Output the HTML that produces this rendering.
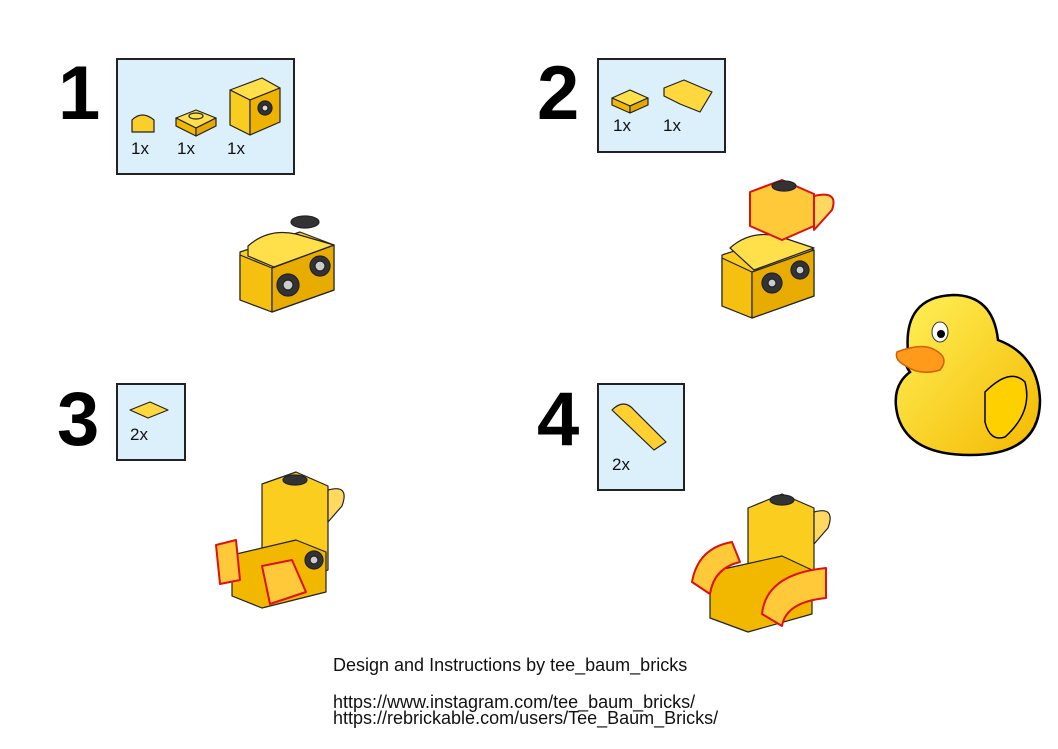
<!DOCTYPE html>
<html><head><meta charset="utf-8"><style>
html,body{margin:0;padding:0;background:#fff;}
body{width:1058px;height:749px;position:relative;overflow:hidden;font-family:"Liberation Sans",sans-serif;}
.n{position:absolute;font-weight:bold;font-size:76px;line-height:1;color:#000;}
.box{position:absolute;background:#dcf0fb;border:2px solid #222;box-sizing:border-box;}
.q{position:absolute;font-size:17px;color:#111;line-height:1;}
.t{position:absolute;font-size:18px;line-height:1;color:#111;left:333px;white-space:nowrap;}
svg{position:absolute;left:0;top:0;}
</style></head><body>
<div class="n" style="left:58px;top:56px">1</div>
<div class="n" style="left:537px;top:56px">2</div>
<div class="n" style="left:57px;top:382px">3</div>
<div class="n" style="left:537px;top:382px">4</div>
<div class="box" style="left:116px;top:58px;width:179px;height:117px"></div>
<div class="box" style="left:597px;top:58px;width:129px;height:95px"></div>
<div class="box" style="left:116px;top:383px;width:70px;height:78px"></div>
<div class="box" style="left:597px;top:383px;width:88px;height:108px"></div>
<div class="q" style="left:131px;top:140px">1x</div>
<div class="q" style="left:177px;top:140px">1x</div>
<div class="q" style="left:227px;top:140px">1x</div>
<div class="q" style="left:613px;top:117px">1x</div>
<div class="q" style="left:663px;top:117px">1x</div>
<div class="q" style="left:130px;top:426px">2x</div>
<div class="q" style="left:612px;top:456px">2x</div>
<div class="t" style="top:656px">Design and Instructions by tee_baum_bricks</div>
<div class="t" style="top:693px">https://www.instagram.com/tee_baum_bricks/</div>
<div class="t" style="top:709px">https://rebrickable.com/users/Tee_Baum_Bricks/</div>
<svg width="1058" height="749" viewBox="0 0 1058 749">
<defs>
<linearGradient id="dg" x1="0" y1="0" x2="1" y2="1"><stop offset="0" stop-color="#fff25a"/><stop offset="1" stop-color="#f4b800"/></linearGradient>
</defs>
<g stroke="#222" stroke-width="1.2" stroke-linejoin="round">
<path d="M132 120 q10-10 22 0 v12 h-22z" fill="#f9cf2c"/>
<polygon points="176,118 196,110 216,118 196,128" fill="#ffe04a"/><polygon points="176,118 196,128 196,136 176,126" fill="#f2b800"/><polygon points="196,128 216,118 216,126 196,136" fill="#e5a800"/>
<ellipse cx="196" cy="116" rx="7" ry="3" fill="#ffe04a"/>
<polygon points="230,90 262,78 280,88 250,100" fill="#ffe04a"/><polygon points="230,90 250,100 250,135 230,125" fill="#f9cc20"/><polygon points="250,100 280,88 280,122 250,135" fill="#eeb300"/>
<circle cx="265" cy="108" r="7" fill="#333"/><circle cx="265" cy="108" r="3" fill="#ddd"/>
<polygon points="612,98 630,90 648,98 630,106" fill="#ffe04a"/><polygon points="612,98 630,106 630,113 612,105" fill="#f2b800"/><polygon points="630,106 648,98 648,105 630,113" fill="#e5a800"/>
<polygon points="664,88 684,80 712,92 700,112 680,104 664,96" fill="#ffd840"/>
<polygon points="130,410 150,402 168,410 148,418" fill="#ffd840"/>
<path d="M612 410 q12-12 22 0 l32 32 -12 8 z" fill="#ffd030"/>
<polygon points="240,252 300,232 334,245 334,290 272,312 240,300" fill="#fbcd1e"/>
<polygon points="240,255 272,268 272,312 240,300" fill="#f5c010"/>
<polygon points="272,268 334,245 334,290 272,312" fill="#e8ac00"/>
<path d="M248 246 q20-18 48-12 l38 11 -60 22 -26-11z" fill="#ffe04a"/>
<ellipse cx="305" cy="222" rx="14" ry="6" fill="#333"/>
<circle cx="288" cy="285" r="11" fill="#333"/><circle cx="288" cy="285" r="5" fill="#ccc"/>
<circle cx="320" cy="266" r="10" fill="#333"/><circle cx="320" cy="266" r="5" fill="#ccc"/>
<polygon points="722,255 780,236 814,250 814,296 752,318 722,306" fill="#fbcd1e"/>
<polygon points="722,258 752,272 752,318 722,306" fill="#f5c010"/>
<polygon points="752,272 814,250 814,296 752,318" fill="#e8ac00"/>
<path d="M730 248 q20-18 48-12 l36 12 -60 22z" fill="#ffe04a"/>
<polygon points="750,192 782,180 814,194 814,226 782,240 750,226" fill="#ffc93a" stroke="#e01010" stroke-width="2"/>
<path d="M814 196 q25 -6 18 14 l-18 20z" fill="#ffd860" stroke="#e01010" stroke-width="2"/>
<ellipse cx="784" cy="186" rx="12" ry="5" fill="#333"/>
<circle cx="772" cy="283" r="10" fill="#333"/><circle cx="772" cy="283" r="4" fill="#ccc"/>
<circle cx="800" cy="270" r="9" fill="#333"/><circle cx="800" cy="270" r="4" fill="#ccc"/>
<polygon points="262,484 296,472 328,486 328,570 296,584 262,570" fill="#fbcd1e"/>
<polygon points="232,555 296,540 326,552 326,592 262,608 232,596" fill="#f2b800"/>
<path d="M328 490 q22-6 14 16 l-14 16z" fill="#ffd860"/>
<ellipse cx="295" cy="480" rx="12" ry="5" fill="#333"/>
<polygon points="216,545 236,540 240,580 220,584" fill="#ffc93a" stroke="#e01010" stroke-width="2"/>
<polygon points="262,566 292,560 306,592 270,604" fill="#ffc93a" stroke="#e01010" stroke-width="2"/>
<circle cx="314" cy="560" r="9" fill="#333"/><circle cx="314" cy="560" r="4" fill="#ccc"/>
<polygon points="748,508 782,494 814,508 814,590 782,604 748,590" fill="#fbcd1e"/>
<polygon points="710,572 782,556 812,570 812,614 748,632 710,618" fill="#f2b800"/>
<path d="M814 512 q22-6 14 16 l-14 16z" fill="#ffd860"/>
<ellipse cx="782" cy="500" rx="12" ry="5" fill="#333"/>
<path d="M692 582 q6-34 40-40 l8 20 q-26 6-30 32z" fill="#ffc93a" stroke="#e01010" stroke-width="2"/>
<path d="M762 614 q4-40 64-46 l0 30 q-40 4-44 28z" fill="#ffc93a" stroke="#e01010" stroke-width="2"/>
</g>
<g stroke="#000" stroke-width="2.5">
<path d="M908 352 q-5-55 45-57 q40 0 45 45 q40 15 42 60 q0 55 -70 55 q-60 0 -72-38 q-8-30 12-45 q-8-10 -2-20z" fill="url(#dg)"/>
<path d="M985 392 q25-25 40-10 q8 30 -20 55 q-15 5 -20-15z" fill="#ffd000" stroke-width="1.5"/>
<path d="M897 352 q25-10 38-2 q15 8 5 20 q-20 6 -34-4 q-12-6 -9-14z" fill="#ff9a1a" stroke="#d06000" stroke-width="1.5"/>
</g>
<ellipse cx="940" cy="332" rx="8" ry="10" fill="#fff" stroke="#333" stroke-width="1"/>
<circle cx="941" cy="334" r="4" fill="#000"/>
</svg>
</body></html>
